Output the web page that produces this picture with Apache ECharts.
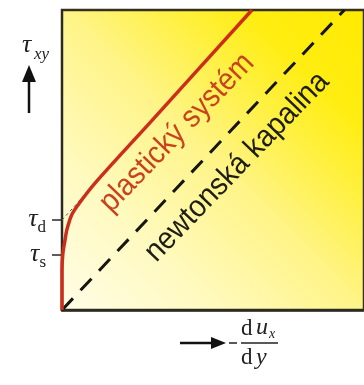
<!DOCTYPE html>
<html><head><meta charset="utf-8">
<script src="https://cdn.jsdelivr.net/npm/echarts@6/dist/echarts.min.js"></script>
<style>html,body{margin:0;padding:0;background:#fff}#c{width:364px;height:385px}</style>
</head><body><div id="c"></div>
<script>
// Data (shear rate x, shear stress y) in arbitrary units
const TAU_S = 1.83;   // yield stress (start of flow)
const TAU_D = 3.0;    // extrapolated (Bingham) yield stress
const yTickValues = [TAU_S, TAU_D];
const yTickNames = ['s', 'd'];
const plasticX = [0, 0, 0.03, 0.1, 0.16, 0.32, 0.58, 1.13, 2.99, 6.29];
const plasticY = [0, 1.33, 1.9, 2.33, 2.67, 3.17, 3.57, 4.27, 6.33, 10];
const newtonX = [0, 9.35];
const newtonY = [0, 10];
const tangentX = [0, 1.0];
const tangentY = [TAU_D, 4.11];
const labelPlastic = 'plastický systém';
const labelNewton = 'newtonská kapalina';

const zip = (a, b) => a.map((v, i) => [v, b[i]]);
const chart = echarts.init(document.getElementById('c'), null, {renderer: 'canvas'});
const serif = 'Liberation Serif';
const sans = 'Liberation Sans';
const deg = Math.PI / 180;

chart.setOption({
  animation: false,
  grid: {
    left: 62, top: 10, width: 310, height: 300, show: true,
    borderColor: '#34301c', borderWidth: 2.5,
    backgroundColor: {
      type: 'linear', x: 0, y: 1, x2: 1, y2: 0,
      colorStops: [
        {offset: 0, color: '#fffde8'},
        {offset: 0.25, color: '#fffac0'},
        {offset: 0.5, color: '#fff488'},
        {offset: 0.68, color: '#fff040'},
        {offset: 0.8, color: '#ffed12'},
        {offset: 1, color: '#ffea00'}
      ]
    }
  },
  xAxis: {
    type: 'value', min: 0, max: 10,
    axisLine: {show: true, lineStyle: {color: '#2a2a22', width: 2.5}},
    axisTick: {show: false}, axisLabel: {show: false}, splitLine: {show: false}
  },
  yAxis: {
    type: 'value', min: 0, max: 10,
    axisLine: {show: true, lineStyle: {color: '#2a2a22', width: 2}},
    axisTick: {show: true, customValues: yTickValues, length: 10, lineStyle: {color: '#2a2a22', width: 1.5}},
    axisLabel: {
      show: true, customValues: yTickValues, margin: 16,
      formatter: function (v) {
        const i = yTickValues.findIndex(t => Math.abs(t - v) < 1e-6);
        return '{t|τ}{s|' + yTickNames[i] + '}';
      },
      rich: {
        t: {fontFamily: serif, fontStyle: 'italic', fontSize: 26, color: '#222', verticalAlign: 'bottom', lineHeight: 24},
        s: {fontFamily: serif, fontSize: 17, color: '#222', verticalAlign: 'bottom', lineHeight: 16, padding: [0, 0, -4, 0]}
      }
    },
    splitLine: {show: false}
  },
  series: [
    {
      type: 'line', data: zip(newtonX, newtonY), symbol: 'none',
      lineStyle: {color: '#161610', width: 3, type: [16, 11]}, z: 3
    },
    {
      type: 'line', data: zip(tangentX, tangentY), symbol: 'none',
      lineStyle: {color: '#555', width: 1, type: [3, 3]}, z: 2
    },
    {
      type: 'line', data: zip(plasticX, plasticY), symbol: 'none', smooth: 0.3,
      lineStyle: {color: '#cc2e1c', width: 3.5}, z: 4
    }
  ]
});

chart.setOption({
  graphic: [
    {type: 'text', x: 177, y: 133, rotation: 46 * deg, scaleX: 0.92,
      style: {text: labelPlastic, fontFamily: sans, fontSize: 31, fill: '#c8421e', align: 'center', verticalAlign: 'middle'}},
    {type: 'text', x: 237, y: 167, rotation: 46 * deg, scaleX: 0.92,
      style: {text: labelNewton, fontFamily: sans, fontSize: 31, fill: '#1e1e14', align: 'center', verticalAlign: 'middle'}},
    // y-axis name with arrow
    {type: 'text', x: 22, y: 58, style: {text: 'τ', fontFamily: serif, fontStyle: 'italic', fontSize: 26, fill: '#222', verticalAlign: 'bottom'}},
    {type: 'text', x: 34, y: 63, style: {text: 'xy', fontFamily: serif, fontStyle: 'italic', fontSize: 17, fill: '#222', verticalAlign: 'bottom'}},
    {type: 'line', shape: {x1: 29, y1: 113, x2: 29, y2: 78}, style: {stroke: '#111', lineWidth: 2.5}},
    {type: 'polygon', shape: {points: [[22, 82], [36, 82], [29, 65]]}, style: {fill: '#111'}},
    // x-axis name with arrow
    {type: 'line', shape: {x1: 180, y1: 343, x2: 214, y2: 343}, style: {stroke: '#111', lineWidth: 2.5}},
    {type: 'polygon', shape: {points: [[211, 337], [226, 343], [211, 349]]}, style: {fill: '#111'}},
    {type: 'line', shape: {x1: 229, y1: 343, x2: 237, y2: 343}, style: {stroke: '#222', lineWidth: 1.5}},
    {type: 'line', shape: {x1: 241, y1: 343, x2: 278, y2: 343}, style: {stroke: '#222', lineWidth: 1.5}},
    {type: 'text', x: 241, y: 340, style: {text: 'd', fontFamily: serif, fontSize: 23, fill: '#222', verticalAlign: 'bottom'}},
    {type: 'text', x: 256, y: 340, style: {text: 'u', fontFamily: serif, fontStyle: 'italic', fontSize: 24, fill: '#222', verticalAlign: 'bottom'}},
    {type: 'text', x: 269, y: 341, style: {text: 'x', fontFamily: serif, fontStyle: 'italic', fontSize: 14, fill: '#222', verticalAlign: 'bottom'}},
    {type: 'text', x: 241, y: 346, style: {text: 'd', fontFamily: serif, fontSize: 23, fill: '#222', verticalAlign: 'top'}},
    {type: 'text', x: 256, y: 346, style: {text: 'y', fontFamily: serif, fontStyle: 'italic', fontSize: 24, fill: '#222', verticalAlign: 'top'}}
  ]
});
</script></body></html>
